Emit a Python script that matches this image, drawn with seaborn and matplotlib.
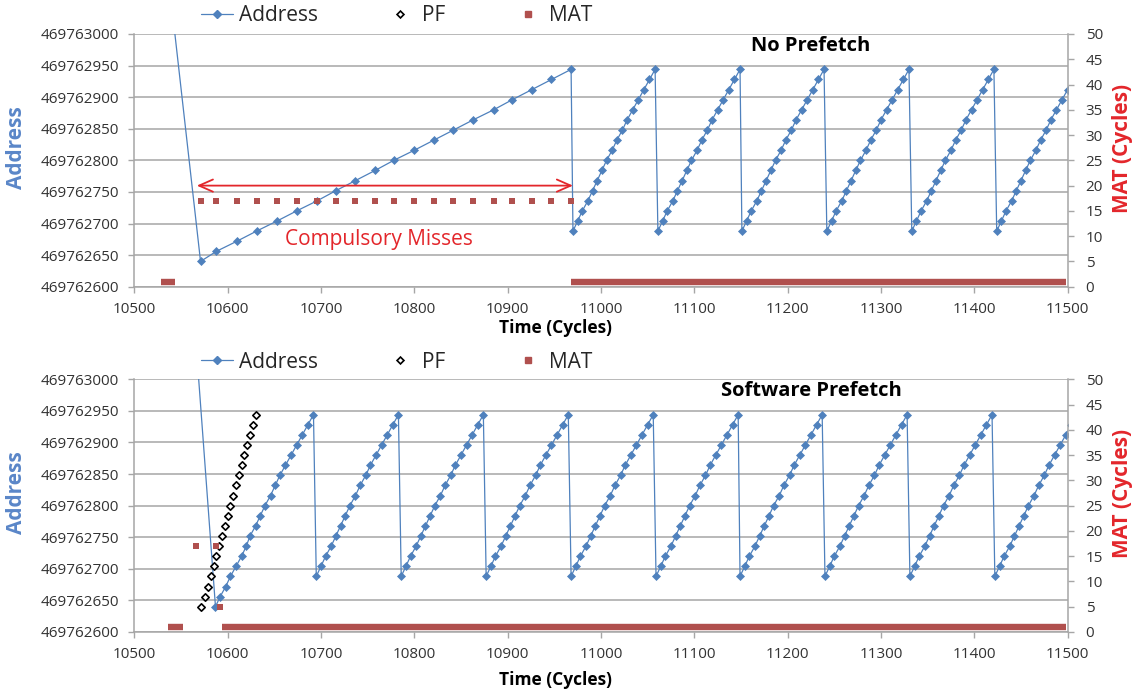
import matplotlib
matplotlib.use("Agg")
import matplotlib.pyplot as plt
from matplotlib.lines import Line2D
import seaborn as sns
import numpy as np
import pandas as pd

# ---------------- data ----------------
x_ticks = [10500, 10600, 10700, 10800, 10900, 11000, 11100, 11200, 11300, 11400, 11500]
addr_ticks = [469762600, 469762650, 469762700, 469762750, 469762800,
              469762850, 469762900, 469762950, 469763000]
mat_ticks = [0, 5, 10, 15, 20, 25, 30, 35, 40, 45, 50]

# --- No Prefetch panel ---
top_time = [10530,
    10571, 10588, 10610, 10631, 10653, 10674, 10696, 10716, 10737, 10758,
    10778, 10800, 10821, 10842, 10863, 10885, 10905, 10926, 10947, 10968,
    10970, 10975, 10980, 10986, 10991, 10996, 11001, 11006, 11012, 11017, 11023, 11028, 11034, 11040, 11046, 11052, 11058,
    11061, 11066, 11071, 11077, 11082, 11087, 11092, 11097, 11103, 11108, 11114, 11119, 11125, 11131, 11137, 11143, 11149,
    11151, 11156, 11161, 11167, 11172, 11177, 11182, 11187, 11193, 11198, 11204, 11209, 11215, 11221, 11227, 11233, 11239,
    11242, 11247, 11252, 11258, 11263, 11268, 11273, 11278, 11284, 11289, 11295, 11300, 11306, 11312, 11318, 11324, 11330,
    11333, 11338, 11343, 11349, 11354, 11359, 11364, 11369, 11375, 11380, 11386, 11391, 11397, 11403, 11409, 11415, 11421,
    11424, 11429, 11434, 11440, 11445, 11450, 11455, 11460, 11466, 11471, 11477, 11482, 11488, 11494, 11500, 11506]
top_addr = [469763177,
    469762640, 469762656, 469762672, 469762688, 469762704, 469762720, 469762736, 469762752, 469762768, 469762784,
    469762800, 469762816, 469762832, 469762848, 469762864, 469762880, 469762896, 469762912, 469762928, 469762944,
    469762688, 469762704, 469762720, 469762736, 469762752, 469762768, 469762784, 469762800, 469762816, 469762832, 469762848, 469762864, 469762880, 469762896, 469762912, 469762928, 469762944,
    469762688, 469762704, 469762720, 469762736, 469762752, 469762768, 469762784, 469762800, 469762816, 469762832, 469762848, 469762864, 469762880, 469762896, 469762912, 469762928, 469762944,
    469762688, 469762704, 469762720, 469762736, 469762752, 469762768, 469762784, 469762800, 469762816, 469762832, 469762848, 469762864, 469762880, 469762896, 469762912, 469762928, 469762944,
    469762688, 469762704, 469762720, 469762736, 469762752, 469762768, 469762784, 469762800, 469762816, 469762832, 469762848, 469762864, 469762880, 469762896, 469762912, 469762928, 469762944,
    469762688, 469762704, 469762720, 469762736, 469762752, 469762768, 469762784, 469762800, 469762816, 469762832, 469762848, 469762864, 469762880, 469762896, 469762912, 469762928, 469762944,
    469762688, 469762704, 469762720, 469762736, 469762752, 469762768, 469762784, 469762800, 469762816, 469762832, 469762848, 469762864, 469762880, 469762896, 469762912, 469762928]
top_pf_time = []
top_pf_addr = []
top_mat_time = [10571, 10588, 10610, 10631, 10653, 10674, 10696, 10716, 10737, 10758,
                10778, 10800, 10821, 10842, 10863, 10885, 10905, 10926, 10947, 10968]
top_mat_val = [17, 17, 17, 17, 17, 17, 17, 17, 17, 17,
               17, 17, 17, 17, 17, 17, 17, 17, 17, 17]
top_hit_start = [10529, 10968]
top_hit_end = [10544, 11498]
top_hit_val = [1, 1]

# --- Software Prefetch panel ---
bot_time = [10560,
    10587, 10592, 10598, 10603, 10609, 10615, 10620, 10624, 10630, 10635,
    10640, 10646, 10651, 10656, 10662, 10668, 10674, 10680, 10686, 10692,
    10695, 10700, 10705, 10711, 10716, 10721, 10726, 10731, 10737, 10742, 10748, 10753, 10759, 10765, 10771, 10777, 10783,
    10786, 10791, 10796, 10802, 10807, 10812, 10817, 10822, 10828, 10833, 10839, 10844, 10850, 10856, 10862, 10868, 10874,
    10877, 10882, 10887, 10893, 10898, 10903, 10908, 10913, 10919, 10924, 10930, 10935, 10941, 10947, 10953, 10959, 10965,
    10968, 10973, 10978, 10984, 10989, 10994, 10999, 11004, 11010, 11015, 11021, 11026, 11032, 11038, 11044, 11050, 11056,
    11059, 11064, 11069, 11075, 11080, 11085, 11090, 11095, 11101, 11106, 11112, 11117, 11123, 11129, 11135, 11141, 11147,
    11149, 11154, 11159, 11165, 11170, 11175, 11180, 11185, 11191, 11196, 11202, 11207, 11213, 11219, 11225, 11231, 11237,
    11240, 11245, 11250, 11256, 11261, 11266, 11271, 11276, 11282, 11287, 11293, 11298, 11304, 11310, 11316, 11322, 11328,
    11331, 11336, 11341, 11347, 11352, 11357, 11362, 11367, 11373, 11378, 11384, 11389, 11395, 11401, 11407, 11413, 11419,
    11422, 11427, 11432, 11438, 11443, 11448, 11453, 11458, 11464, 11469, 11475, 11480, 11486, 11492, 11498, 11504]
bot_addr = [469763180,
    469762640, 469762656, 469762672, 469762688, 469762704, 469762720, 469762736, 469762752, 469762768, 469762784,
    469762800, 469762816, 469762832, 469762848, 469762864, 469762880, 469762896, 469762912, 469762928, 469762944,
    469762688, 469762704, 469762720, 469762736, 469762752, 469762768, 469762784, 469762800, 469762816, 469762832, 469762848, 469762864, 469762880, 469762896, 469762912, 469762928, 469762944,
    469762688, 469762704, 469762720, 469762736, 469762752, 469762768, 469762784, 469762800, 469762816, 469762832, 469762848, 469762864, 469762880, 469762896, 469762912, 469762928, 469762944,
    469762688, 469762704, 469762720, 469762736, 469762752, 469762768, 469762784, 469762800, 469762816, 469762832, 469762848, 469762864, 469762880, 469762896, 469762912, 469762928, 469762944,
    469762688, 469762704, 469762720, 469762736, 469762752, 469762768, 469762784, 469762800, 469762816, 469762832, 469762848, 469762864, 469762880, 469762896, 469762912, 469762928, 469762944,
    469762688, 469762704, 469762720, 469762736, 469762752, 469762768, 469762784, 469762800, 469762816, 469762832, 469762848, 469762864, 469762880, 469762896, 469762912, 469762928, 469762944,
    469762688, 469762704, 469762720, 469762736, 469762752, 469762768, 469762784, 469762800, 469762816, 469762832, 469762848, 469762864, 469762880, 469762896, 469762912, 469762928, 469762944,
    469762688, 469762704, 469762720, 469762736, 469762752, 469762768, 469762784, 469762800, 469762816, 469762832, 469762848, 469762864, 469762880, 469762896, 469762912, 469762928, 469762944,
    469762688, 469762704, 469762720, 469762736, 469762752, 469762768, 469762784, 469762800, 469762816, 469762832, 469762848, 469762864, 469762880, 469762896, 469762912, 469762928, 469762944,
    469762688, 469762704, 469762720, 469762736, 469762752, 469762768, 469762784, 469762800, 469762816, 469762832, 469762848, 469762864, 469762880, 469762896, 469762912, 469762928]
bot_pf_time = [10572, 10576, 10579, 10582, 10585, 10588, 10591, 10594, 10597, 10600,
               10603, 10606, 10609, 10612, 10615, 10618, 10621, 10624, 10627, 10630]
bot_pf_addr = [469762640, 469762656, 469762672, 469762688, 469762704, 469762720, 469762736, 469762752, 469762768, 469762784,
               469762800, 469762816, 469762832, 469762848, 469762864, 469762880, 469762896, 469762912, 469762928, 469762944]
bot_mat_time = [10566, 10588, 10592]
bot_mat_val = [17, 17, 5]
bot_hit_start = [10536, 10594]
bot_hit_end = [10552, 11498]
bot_hit_val = [1, 1]

# ---------------- style ----------------
sns.set_style("white")
plt.rcParams["font.family"] = ["Open Sans", "DejaVu Sans"]

BLUE = "#4F81BD"
LABEL_BLUE = "#5A86C8"
MAT_RED = "#B0504E"
RED = "#E3262B"
GRID = "#A6A6A6"
TXT = "#333333"

fig = plt.figure(figsize=(11.37, 6.91), dpi=100)
ax_top = fig.add_axes([0.1181, 0.5851, 0.8209, 0.3657])
ax_bot = fig.add_axes([0.1181, 0.0854, 0.8209, 0.3657])


def draw_panel(ax, title, a_t, a_v, pf_t, pf_v, m_t, m_v, h_s, h_e, h_v, xlab_y):
    ax.set_xlim(x_ticks[0], x_ticks[-1])
    ax.set_ylim(addr_ticks[0], addr_ticks[-1])
    ax.set_xticks(x_ticks)
    ax.set_xticklabels([str(v) for v in x_ticks])
    ax.set_yticks(addr_ticks)
    ax.set_yticklabels([str(v) for v in addr_ticks])
    ax.grid(axis="y", color=GRID, lw=1.1)
    ax.grid(axis="x", visible=False)
    ax.set_axisbelow(True)
    for s in ["top", "right"]:
        ax.spines[s].set_visible(False)
    for s in ["left", "bottom"]:
        ax.spines[s].set_color(GRID)
        ax.spines[s].set_linewidth(1.1)
    ax.tick_params(axis="both", direction="out", length=4, width=1, color=GRID,
                   labelsize=11, labelcolor=TXT, left=True, bottom=True)
    ax.tick_params(axis="x", pad=7)
    ax.tick_params(axis="y", pad=7)

    sns.lineplot(x=a_t, y=a_v, ax=ax, color=BLUE, lw=0.9, marker="D",
                 markersize=3.8, markerfacecolor=BLUE, markeredgecolor=BLUE,
                 markeredgewidth=0.5, estimator=None, sort=False, legend=False,
                 zorder=3)
    if len(pf_t):
        sns.scatterplot(x=pf_t, y=pf_v, ax=ax, marker="D", s=14, facecolor="white",
                        edgecolor="black", linewidth=1.2, legend=False, zorder=4)
    ax.set_xlabel("")
    ax.set_ylabel("")

    ax2 = ax.twinx()
    ax2.set_ylim(mat_ticks[0], mat_ticks[-1])
    ax2.set_yticks(mat_ticks)
    ax2.set_yticklabels([str(v) for v in mat_ticks])
    for s in ["top", "left", "bottom"]:
        ax2.spines[s].set_visible(False)
    ax2.spines["right"].set_color(GRID)
    ax2.spines["right"].set_linewidth(1.1)
    ax2.tick_params(axis="y", direction="out", length=4, width=1, color=GRID,
                    labelsize=11, labelcolor=TXT, right=True, pad=9)
    ax2.grid(False)
    ax2.hlines(h_v, h_s, h_e, color=MAT_RED, lw=4.6, capstyle="butt", zorder=2)
    sns.scatterplot(x=m_t, y=m_v, ax=ax2, marker="s", s=21, color=MAT_RED,
                    linewidth=0, legend=False, zorder=2)
    ax2.set_ylabel("")

    ax.text(-0.1267, 0.55, "Address", transform=ax.transAxes, rotation=90,
            ha="center", va="center", fontsize=15, fontweight="bold", color=LABEL_BLUE)
    ax.text(1.059, 0.548, "MAT (Cycles)", transform=ax.transAxes, rotation=90,
            ha="center", va="center", fontsize=15, fontweight="bold", color=RED)
    ax.text(0.4516, xlab_y, "Time (Cycles)", transform=ax.transAxes,
            ha="center", va="center", fontsize=12.5, fontweight="bold", color="black")
    ax.text(0.725, 0.954, title, transform=ax.transAxes, ha="center", va="center",
            fontsize=14.5, fontweight="bold", color="black", zorder=6)
    return ax2


ax2_top = draw_panel(ax_top, "No Prefetch", top_time, top_addr, top_pf_time, top_pf_addr,
                     top_mat_time, top_mat_val, top_hit_start, top_hit_end, top_hit_val, -0.163)
ax2_bot = draw_panel(ax_bot, "Software Prefetch", bot_time, bot_addr, bot_pf_time, bot_pf_addr,
                     bot_mat_time, bot_mat_val, bot_hit_start, bot_hit_end, bot_hit_val, -0.19)

# Compulsory misses annotation (top panel)
ax2_top.annotate("", xy=(10567, 20), xytext=(10970, 20),
                 arrowprops=dict(arrowstyle="<->,head_length=0.5,head_width=0.22",
                                 color=RED, lw=1.3, shrinkA=0, shrinkB=0,
                                 mutation_scale=20), zorder=6)
ax2_top.text(10762, 9.4, "Compulsory Misses", color=RED, fontsize=15,
             ha="center", va="center", zorder=6)

# legends
handles = [
    Line2D([], [], color=BLUE, lw=0.9, marker="D", markersize=3.8,
           markerfacecolor=BLUE, markeredgecolor=BLUE),
    Line2D([], [], color="black", lw=0, marker="D", markersize=3.5,
           markerfacecolor="white", markeredgecolor="black", markeredgewidth=1.2),
    Line2D([], [], color=MAT_RED, lw=0, marker="s", markersize=4.6,
           markerfacecolor=MAT_RED, markeredgecolor=MAT_RED),
]
labels = ["Address", "PF", "MAT"]
for yc in (0.977, 0.476):
    fig.legend(handles, labels, loc="center", bbox_to_anchor=(0.349, yc), ncol=3,
               frameon=False, fontsize=15, handlelength=1.55, handletextpad=0.25,
               columnspacing=3.2, labelcolor="#262626", borderpad=0)

fig.savefig("out.png", dpi=100)
